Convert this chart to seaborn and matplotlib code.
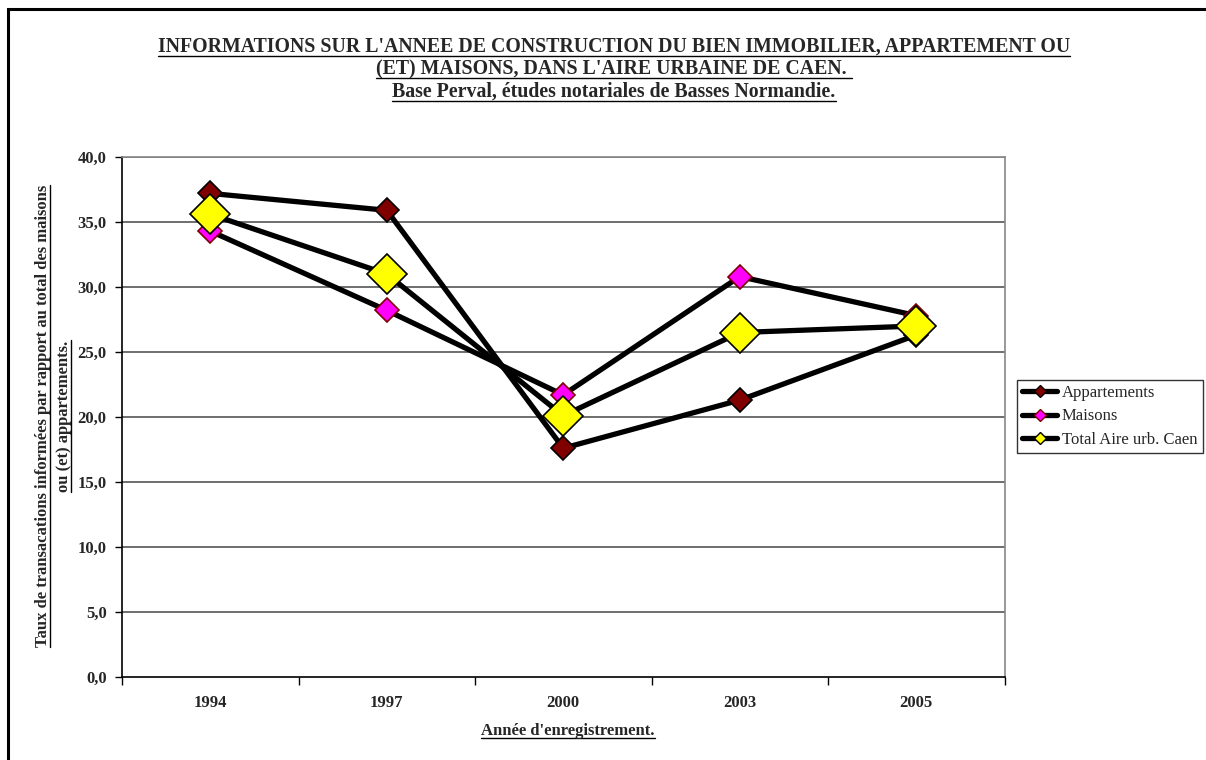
import matplotlib
matplotlib.use("Agg")
import matplotlib.pyplot as plt
import seaborn as sns
import pandas as pd
from matplotlib.lines import Line2D
from matplotlib.patches import Rectangle

years = ["1994", "1997", "2000", "2003", "2005"]
appartements = [37.2, 35.9, 17.6, 21.3, 26.3]
maisons = [34.3, 28.2, 21.7, 30.8, 27.8]
total = [35.6, 31.0, 20.1, 26.5, 27.0]
series_names = ["Appartements", "Maisons", "Total Aire urb. Caen"]
yticks = [0, 5, 10, 15, 20, 25, 30, 35, 40]

title_lines = [
    "INFORMATIONS SUR L'ANNEE DE CONSTRUCTION DU BIEN IMMOBILIER, APPARTEMENT OU",
    "(ET) MAISONS, DANS L'AIRE URBAINE DE CAEN. ",
    "Base Perval, études notariales de Basses Normandie.",
]
ylabel_lines = [
    "Taux de transacations informées par rapport au total des maisons",
    "ou (et) appartements.",
]
xlabel = "Année d'enregistrement."

sns.set_theme(style="white")
plt.rcParams["font.family"] = ["Liberation Serif", "DejaVu Serif"]

fig = plt.figure(figsize=(12.06, 7.6), dpi=100)
ax = fig.add_axes([122 / 1206, 1 - 677 / 760, (1004.5 - 122) / 1206, (677 - 157) / 760])

styles = [
    dict(mfc="#800000", mec="black", ms=12.5),
    dict(mfc="#FF00FF", mec="#800000", ms=12.5),
    dict(mfc="#FFFF00", mec="black", ms=20.5),
]
values = [appartements, maisons, total]
for name, vals, st in zip(series_names, values, styles):
    df = pd.DataFrame({"x": list(range(len(years))), "y": vals})
    sns.lineplot(data=df, x="x", y="y", ax=ax, color="black", lw=3.8,
                 marker="D", markersize=st["ms"], markerfacecolor=st["mfc"],
                 markeredgecolor=st["mec"], markeredgewidth=1.2, label=name,
                 legend=False)

ax.set_xlim(-0.5, len(years) - 0.5)
ax.set_ylim(0, 40)
ax.set_yticks(yticks)
ax.set_yticklabels([f"{v:.1f}".replace(".", ",") for v in yticks],
                   fontsize=12, fontweight="bold")
ax.set_xticks([i - 0.5 for i in range(len(years) + 1)])
ax.set_xticklabels([""] * (len(years) + 1))
ax.set_xticks(range(len(years)), minor=True)
ax.set_xticklabels(years, minor=True, fontsize=12, fontweight="bold")
ax.tick_params(axis="x", which="major", direction="out", length=6, width=1, color="black", bottom=True)
ax.tick_params(axis="x", which="minor", length=0, pad=13, bottom=True)
ax.tick_params(axis="y", direction="out", length=5, width=1, color="black", left=True, pad=6)
for v in yticks[1:]:
    ax.axhline(v, color="#555555", lw=1.2, zorder=0)
ax.set_xlabel("")
ax.set_ylabel("")
for s in ["left", "bottom"]:
    ax.spines[s].set_color("black")
    ax.spines[s].set_linewidth(1.2)
for s in ["top", "right"]:
    ax.spines[s].set_color("#888888")
    ax.spines[s].set_linewidth(1.2)

handles = [Line2D([0], [0], color="black", lw=3.8, marker="D", ms=6,
                  mfc=st["mfc"], mec=st["mec"], mew=1) for st in styles]
leg = fig.legend(handles, series_names, loc="upper left",
                 bbox_to_anchor=(1017 / 1206, 1 - 380 / 760),
                 frameon=True, fancybox=False, edgecolor="black",
                 fontsize=12, handlelength=2.1, handletextpad=0.3,
                 borderpad=0.3, labelspacing=0.45, borderaxespad=0)
leg.get_frame().set_linewidth(1)

# outer border
fig.patches.append(Rectangle((8 / 1206, -0.1), 1.2, 1 - 9 / 760 + 0.1,
                             transform=fig.transFigure, fill=False,
                             edgecolor="black", lw=2.2))

texts = []
for i, (line, yy) in enumerate(zip(title_lines, [47, 69, 92])):
    t = fig.text(614 / 1206, 1 - yy / 760, line, ha="center", va="center",
                 fontsize=14.3, fontweight="bold")
    texts.append(("h", t))
t = fig.text(568 / 1206, 1 - 731 / 760, xlabel, ha="center", va="center",
             fontsize=12, fontweight="bold")
texts.append(("h", t))
for line, xx in zip(ylabel_lines, [43, 64]):
    t = fig.text(xx / 1206, 1 - 416 / 760, line, ha="center", va="center",
                 rotation=90, fontsize=12, fontweight="bold")
    texts.append(("v", t))

fig.canvas.draw()
r = fig.canvas.get_renderer()
W, H = fig.bbox.width, fig.bbox.height
for kind, t in texts:
    bb = t.get_window_extent(r)
    if kind == "h":
        yline = bb.y0 + 1.5
        fig.add_artist(Line2D([bb.x0 / W, bb.x1 / W], [yline / H, yline / H],
                              color="black", lw=1, transform=fig.transFigure))
    else:
        xline = bb.x1 - 1.5
        fig.add_artist(Line2D([xline / W, xline / W], [bb.y0 / H, bb.y1 / H],
                              color="black", lw=1, transform=fig.transFigure))

fig.savefig("out.png", dpi=100)
